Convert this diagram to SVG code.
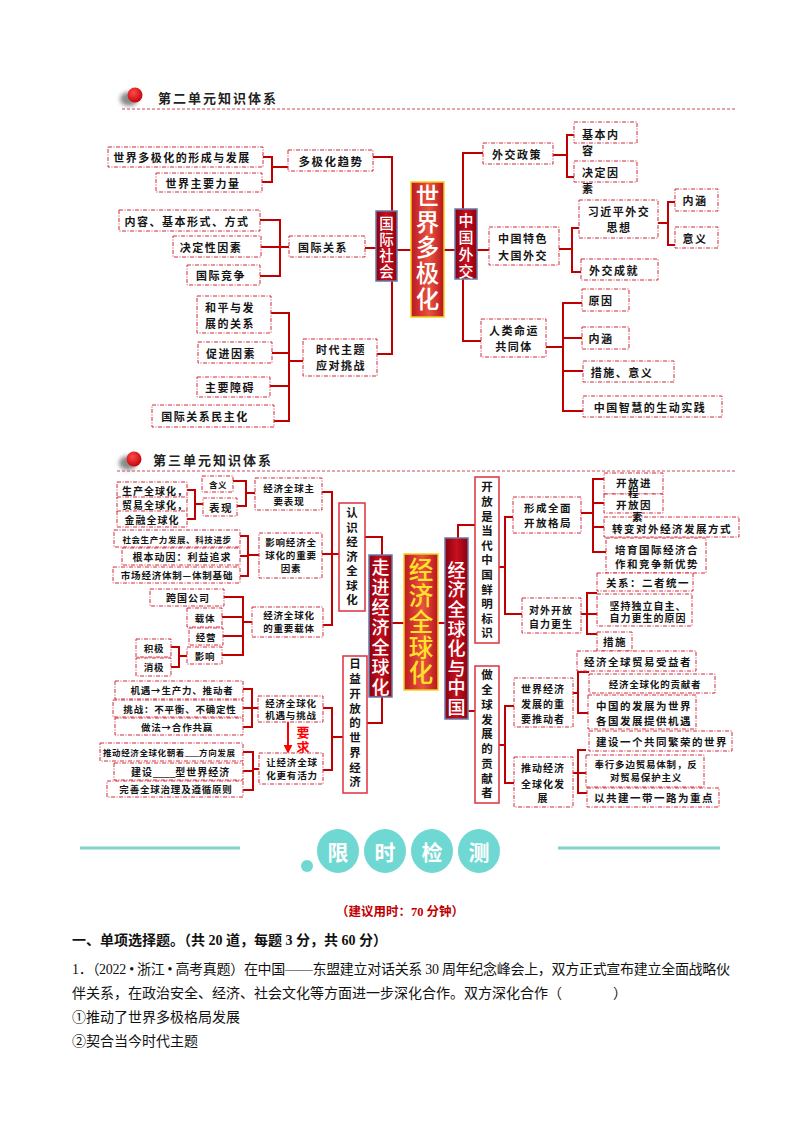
<svg xmlns="http://www.w3.org/2000/svg" width="800" height="1132" viewBox="0 0 800 1132">
<defs>
<style>
.bx{fill:#fff;stroke:#d22b3a;stroke-width:1;stroke-dasharray:4 1.5 1 1.5}
.sb{fill:#fff;stroke:#e0303c;stroke-width:1.5}
.dk{fill:url(#gd);stroke:#6a78a6;stroke-width:1.5}
.ct{fill:url(#gc);stroke:#f2d21a;stroke-width:1.5}
.ln{fill:none;stroke:#c00000;stroke-width:2}
.t{font-family:"Noto Sans CJK SC","Noto Sans CJK JP",sans-serif;font-weight:700;fill:#151515;text-anchor:middle;dominant-baseline:central}
.vt{font-family:"Noto Sans CJK SC","Noto Sans CJK JP",sans-serif;font-weight:700;fill:#151515;text-anchor:middle;writing-mode:vertical-rl}
.s{text-anchor:start}
.a{font-size:11px;letter-spacing:1.5px}
.p12{font-size:10.5px;letter-spacing:1.5px}
.p11{font-size:10px;letter-spacing:1px}
.p10{font-size:9.5px;letter-spacing:0.8px}
.p9{font-size:8.5px;letter-spacing:0.6px}
.v{font-size:11.5px}
.w{fill:#fff;font-weight:500}
.g{fill:#ffe12a;font-weight:500}
.hd{font-family:"Noto Sans CJK SC",sans-serif;font-weight:700;font-size:13px;letter-spacing:2px;fill:#222;dominant-baseline:central}
.hl{stroke:#c94a5a;stroke-width:1;stroke-dasharray:3 2}
.body{font-family:"Liberation Serif","Noto Sans CJK SC",serif;font-size:14px;fill:#111}
.tl{fill:#6fd8d2}
.tt{font-family:"Noto Sans CJK SC",sans-serif;font-weight:700;font-size:21px;fill:#fff;text-anchor:middle;dominant-baseline:central}
</style>
<linearGradient id="gd" x1="0" x2="1" y1="0" y2="0"><stop offset="0" stop-color="#8a0010"/><stop offset="0.5" stop-color="#c8101e"/><stop offset="1" stop-color="#8e0012"/></linearGradient>
<linearGradient id="gc" x1="0" x2="1" y1="0" y2="0"><stop offset="0" stop-color="#bd1822"/><stop offset="0.55" stop-color="#e8543f"/><stop offset="1" stop-color="#b81420"/></linearGradient>
<radialGradient id="rb" cx="0.4" cy="0.35" r="0.7"><stop offset="0" stop-color="#ff4a4a"/><stop offset="1" stop-color="#c00008"/></radialGradient>
<filter id="bl" x="-1" y="-1" width="3" height="3"><feGaussianBlur stdDeviation="2.2"/></filter>
<marker id="ah" viewBox="0 0 10 10" refX="8" refY="5" markerWidth="4.5" markerHeight="4.5" orient="auto"><path d="M0,0 L10,5 L0,10 z" fill="#ff0000"/></marker>
</defs>
<rect width="800" height="1132" fill="#fff"/>

<!-- headers -->
<g id="header2">
<ellipse cx="129" cy="99" rx="9" ry="7" fill="#8a8a8a" filter="url(#bl)"/>
<circle cx="135" cy="95" r="7.5" fill="url(#rb)"/>
<text class="hd" x="158" y="97">第二单元知识体系</text>
<line class="hl" x1="122" y1="109" x2="735" y2="109"/>
</g>
<g id="header3">
<ellipse cx="128" cy="463" rx="9" ry="7" fill="#8a8a8a" filter="url(#bl)"/>
<circle cx="134" cy="459" r="7.5" fill="url(#rb)"/>
<text class="hd" x="153" y="459">第三单元知识体系</text>
<line class="hl" x1="117" y1="471" x2="735" y2="471"/>
</g>

<!-- connectors -->
<g id="connectors">
<path class="ln" d="M263,157 H272 V182 H262 M272,167 H288"/>
<path class="ln" d="M373,157 H392 V211"/>
<path class="ln" d="M260,220 H280 V276 H260 M261,247 H289 M365,248 H376"/>
<path class="ln" d="M392,281 V354 H377"/>
<path class="ln" d="M271,313 H289 V421 H274 M272,353 H289 M270,386 H289 M289,361 H303"/>
<path class="ln" d="M397,250 H411 M444,250 H455 M477,250 H489"/>
<path class="ln" d="M463,209 V153 H483 M463,279 V341 H481"/>
<path class="ln" d="M553,155 H567 M574,135 H567 V177 H574"/>
<path class="ln" d="M559,249 H572 M579,228 H572 V272 H581"/>
<path class="ln" d="M658,223 H668 M675,202 H668 V245 H675"/>
<path class="ln" d="M546,347 H563 M582,303 H563 V411 H583 M563,338 H582 M563,371 H583"/>

<path class="ln" d="M187,490 H195 V519 H187 M195,504 H203"/>
<path class="ln" d="M233,481 H246 V506 H237 M246,493 H255"/>
<path class="ln" d="M322,492 H332 V625 H323 M322,554 H339"/>
<path class="ln" d="M240,536 H248 V576 H240 M240,556 H248 M248,555 H259"/>
<path class="ln" d="M224,597 H243 V655 H222 M222,617 H243 M223,636 H243 M243,622 H252"/>
<path class="ln" d="M171,647 H179 V667 H171 M179,656 H187"/>
<path class="ln" d="M243,689 H252 V727 H243 M243,708 H252 M252,708 H258"/>
<path class="ln" d="M323,708 H332 V770 H323 M332,737 H343"/>
<path class="ln" d="M243,752 H253 V790 H243 M243,771 H253 M253,769 H259"/>
<path class="ln" d="M365,537 H382 V555 M382,697 V723 H367 M392,623 H404 M438,623 H445"/>
<path class="ln" d="M458,538 V525 H475 M468,711 H475"/>
<path class="ln" d="M499,567 H505 M513,517 H505 V614 H522"/>
<path class="ln" d="M581,513 H593 M604,479 H593 V552 H606 M593,503 H604 M593,527 H604"/>
<path class="ln" d="M581,614 H597 M597,593 H587 V634 H597"/>
<path class="ln" d="M499,745 H505 M514,706 H505 V783 H514"/>
<path class="ln" d="M573,693 H578 M589,672 H578 V713 H588"/>
<path class="ln" d="M573,773 H586 M586,750 H578 V793 H587"/>
<line x1="288" y1="722" x2="288" y2="752" stroke="#ff0000" stroke-width="2" marker-end="url(#ah)"/>
</g>

<!-- map 1 -->
<g id="n-xingcheng"><rect class="bx" x="108" y="147" width="155" height="20"/><text class="t a" x="182" y="157">世界多极化的形成与发展</text></g>
<g id="n-liliang"><rect class="bx" x="156" y="173" width="106" height="19"/><text class="t a" x="203" y="182.5">世界主要力量</text></g>
<g id="n-qushi"><rect class="bx" x="288" y="150" width="85" height="21"/><text class="t" style="font-size:11.5px;letter-spacing:1.5px" x="331" y="160.5">多极化趋势</text></g>
<g id="n-neirong"><rect class="bx" x="119" y="210" width="141" height="21"/><text class="t a" x="187" y="220.5">内容、基本形式、方式</text></g>
<g id="n-jueding"><rect class="bx" x="173" y="236" width="88" height="21"/><text class="t a" x="211" y="246.5">决定性因素</text></g>
<g id="n-jingzheng"><rect class="bx" x="187" y="265" width="73" height="20"/><text class="t a" x="221" y="275">国际竞争</text></g>
<g id="n-guanxi"><rect class="bx" x="289" y="236" width="76" height="21"/><text class="t a" x="323" y="246.5">国际关系</text></g>
<g id="n-heping"><rect class="bx" x="197" y="296" width="74" height="37"/><text class="t a" x="230" y="307">和平与发</text><text class="t a" x="230" y="323">展的关系</text></g>
<g id="n-cujin"><rect class="bx" x="198" y="342" width="74" height="21"/><text class="t a" x="231" y="352.5">促进因素</text></g>
<g id="n-zhangai"><rect class="bx" x="197" y="377" width="73" height="20"/><text class="t a" x="230" y="387">主要障碍</text></g>
<g id="n-minzhu"><rect class="bx" x="152" y="405" width="122" height="22"/><text class="t a" x="205" y="416">国际关系民主化</text></g>
<g id="n-shidai"><rect class="bx" x="303" y="339" width="74" height="37"/><text class="t a" x="341" y="349">时代主题</text><text class="t a" x="341" y="365">应对挑战</text></g>
<g id="n-guoji"><rect class="dk" x="376" y="211" width="21" height="70"/><text class="vt w" style="font-size:14.5px;letter-spacing:1.5px" x="386.5" y="247.8">国际社会</text></g>
<g id="n-duoji"><rect class="ct" x="411" y="182" width="33" height="135"/><text class="vt w" style="font-size:23.5px;letter-spacing:2.25px" x="427.5" y="248.6">世界多极化</text></g>
<g id="n-waijiao"><rect class="dk" x="455" y="209" width="22" height="70"/><text class="vt w" style="font-size:15px;letter-spacing:2px" x="466" y="246.5">中国外交</text></g>
<g id="n-zhengce"><rect class="bx" x="483" y="143" width="70" height="21"/><text class="t a" x="517" y="153.5">外交政策</text></g>
<g id="n-jiben"><rect class="bx" x="574" y="122" width="63" height="21"/><text class="t a s" x="582" y="134">基本内</text><text class="t a s" x="582" y="150">容</text></g>
<g id="n-yinsu"><rect class="bx" x="574" y="161" width="63" height="21"/><text class="t a s" x="582" y="172">决定因</text><text class="t a s" x="582" y="188">素</text></g>
<g id="n-tese"><rect class="bx" x="489" y="227" width="70" height="38"/><text class="t a" x="523" y="238">中国特色</text><text class="t a" x="523" y="255">大国外交</text></g>
<g id="n-sixiang"><rect class="bx" x="579" y="200" width="79" height="38"/><text class="t a" x="619" y="211">习近平外交</text><text class="t a" x="619" y="227">思想</text></g>
<g id="n-chengjiu"><rect class="bx" x="581" y="259" width="77" height="21"/><text class="t a" x="614" y="269.5">外交成就</text></g>
<g id="n-neihan1"><rect class="bx" x="675" y="189" width="43" height="22"/><text class="t a" x="695" y="200">内涵</text></g>
<g id="n-yiyi"><rect class="bx" x="675" y="227" width="43" height="21"/><text class="t a" x="695" y="237.5">意义</text></g>
<g id="n-mingyun"><rect class="bx" x="481" y="319" width="65" height="38"/><text class="t a" x="514" y="330">人类命运</text><text class="t a" x="514" y="346">共同体</text></g>
<g id="n-yuanyin"><rect class="bx" x="582" y="289" width="47" height="22"/><text class="t a" x="601" y="300">原因</text></g>
<g id="n-neihan2"><rect class="bx" x="582" y="327" width="47" height="22"/><text class="t a" x="601" y="338">内涵</text></g>
<g id="n-cuoshi1"><rect class="bx" x="583" y="361" width="91" height="21"/><text class="t a" x="622" y="371.5">措施、意义</text></g>
<g id="n-zhihui"><rect class="bx" x="583" y="396" width="139" height="21"/><text class="t a" x="650" y="406.5">中国智慧的生动实践</text></g>

<!-- map 2 -->
<g id="n-shengchan"><rect class="bx" x="117" y="482" width="70" height="17"/><text class="t p11" x="155" y="490">生产全球化，</text></g>
<g id="n-maoyi"><rect class="bx" x="117" y="497" width="70" height="15"/><text class="t p11" x="155" y="504">贸易全球化，</text></g>
<g id="n-jinrong"><rect class="bx" x="117" y="511" width="70" height="16"/><text class="t p11" x="152" y="519">金融全球化</text></g>
<g id="n-hanyi"><rect class="bx" x="202" y="476" width="31" height="16"/><text class="t p9" x="218" y="484">含义</text></g>
<g id="n-biaoxian"><rect class="bx" x="203" y="498" width="34" height="18"/><text class="t p12" x="221" y="507">表现</text></g>
<g id="n-zhuyao"><rect class="bx" x="255" y="478" width="67" height="32"/><text class="t p10" x="289" y="488">经济全球主</text><text class="t p10" x="289" y="501">要表现</text></g>
<g id="n-shehui"><rect class="bx" x="114" y="530" width="126" height="17"/><text class="t p9" x="177" y="538.5">社会生产力发展、科技进步</text></g>
<g id="n-genben"><rect class="bx" x="122" y="548" width="118" height="17"/><text class="t p11" x="182" y="556.5">根本动因：利益追求</text></g>
<g id="n-shichang"><rect class="bx" x="113" y="567" width="127" height="16"/><text class="t p10" x="177" y="575">市场经济体制—体制基础</text></g>
<g id="n-yingxiang"><rect class="bx" x="259" y="533" width="63" height="45"/><text class="t p10" x="291" y="542">影响经济全</text><text class="t p10" x="291" y="555">球化的重要</text><text class="t p10" x="291" y="568">因素</text></g>
<g id="n-kuaguo"><rect class="bx" x="150" y="589" width="74" height="17"/><text class="t p11" x="188" y="597.5">跨国公司</text></g>
<g id="n-zaiti"><rect class="bx" x="187" y="608" width="35" height="19"/><text class="t p10" x="205" y="617.5">载体</text></g>
<g id="n-jingying"><rect class="bx" x="189" y="628" width="34" height="17"/><text class="t p10" x="206" y="636.5">经营</text></g>
<g id="n-yingxiang2"><rect class="bx" x="187" y="647" width="35" height="17"/><text class="t p10" x="205" y="655.5">影响</text></g>
<g id="n-zhongyao"><rect class="bx" x="252" y="607" width="71" height="30"/><text class="t p10" x="289" y="615">经济全球化</text><text class="t p10" x="289" y="628">的重要载体</text></g>
<g id="n-jiji"><rect class="bx" x="136" y="639" width="35" height="18"/><text class="t p10" x="154" y="648">积极</text></g>
<g id="n-xiaoji"><rect class="bx" x="136" y="658" width="35" height="18"/><text class="t p10" x="154" y="667">消极</text></g>
<g id="n-jiyu"><rect class="bx" x="115" y="681" width="128" height="18"/><text class="t p10" x="182" y="690">机遇→生产力、推动者</text></g>
<g id="n-tiaozhan"><rect class="bx" x="113" y="700" width="130" height="17"/><text class="t p10" x="180" y="708.5">挑战：不平衡、不确定性</text></g>
<g id="n-zuofa"><rect class="bx" x="115" y="718" width="128" height="17"/><text class="t p10" x="177" y="726.5">做法→合作共赢</text></g>
<g id="n-jiyutz"><rect class="bx" x="258" y="696" width="65" height="26"/><text class="t p10" x="291" y="703">经济全球化</text><text class="t p10" x="291" y="715">机遇与挑战</text></g>
<g id="n-yaoqiu"><text class="vt" style="font-size:13px;letter-spacing:2px;fill:#ff0000" x="303" y="740.5">要求</text></g>
<g id="n-huoli"><rect class="bx" x="259" y="753" width="64" height="31"/><text class="t p10" x="292" y="762">让经济全球</text><text class="t p10" x="292" y="775">化更有活力</text></g>
<g id="n-fangxiang"><rect class="bx" x="100" y="743" width="143" height="18"/><text class="t p9 s" x="103" y="752">推动经济全球化朝着<tspan style="font-family:'Liberation Sans',sans-serif;font-weight:400;letter-spacing:0">___</tspan>方向发展</text></g>
<g id="n-jianshe"><rect class="bx" x="114" y="763" width="129" height="17"/><text class="t p11 s" x="131" y="771.5">建设<tspan style="font-family:'Liberation Sans',sans-serif;font-weight:400;letter-spacing:0">____</tspan>型世界经济</text></g>
<g id="n-wanshan"><rect class="bx" x="107" y="781" width="136" height="16"/><text class="t p10" x="176" y="789">完善全球治理及遵循原则</text></g>
<g id="n-renshi"><rect class="sb" x="339" y="503" width="26" height="108"/><text class="vt v" style="letter-spacing:3px" x="352" y="558">认识经济全球化</text></g>
<g id="n-riyi"><rect class="sb" x="343" y="656" width="24" height="137"/><text class="vt v" style="letter-spacing:3.25px" x="355" y="724.6">日益开放的世界经济</text></g>
<g id="n-zoujin"><rect class="dk" x="369" y="555" width="23" height="142"/><text class="vt w" style="font-size:18px;letter-spacing:2px" x="380.5" y="628">走进经济全球化</text></g>
<g id="n-quanqiu"><rect class="ct" x="404" y="554" width="34" height="136"/><text class="vt g" style="font-size:24.5px;letter-spacing:1.25px" x="421" y="622.2">经济全球化</text></g>
<g id="n-zhongguo"><rect class="dk" x="445" y="538" width="23" height="181"/><text class="vt w" style="font-size:18px;letter-spacing:1.6px" x="456.5" y="639.4">经济全球化与中国</text></g>
<g id="n-biaoshi"><rect class="sb" x="475" y="477" width="24" height="166"/><text class="vt v" style="letter-spacing:3.1px" x="487" y="561.5">开放是当代中国鲜明标识</text></g>
<g id="n-gongxian"><rect class="sb" x="475" y="666" width="24" height="137"/><text class="vt v" style="letter-spacing:3.25px" x="487" y="735.6">做全球发展的贡献者</text></g>
<g id="n-geju"><rect class="bx" x="513" y="497" width="68" height="36"/><text class="t p12" x="548" y="507">形成全面</text><text class="t p12" x="548" y="522">开放格局</text></g>
<g id="n-jincheng"><rect class="bx" x="604" y="473" width="59" height="21"/><text class="t p12" x="634" y="482">开放进</text></g>
<g id="n-yinsu2"><rect class="bx" x="604" y="494" width="59" height="19"/><text class="t p12" x="634" y="492.5">程</text><text class="t p12" x="634" y="504">开放因</text></g>
<g id="n-zhuanbian"><rect class="bx" x="604" y="517" width="135" height="20"/><text class="t p12" x="638" y="516">素</text><text class="t p12" x="672" y="528.5">转变对外经济发展方式</text></g>
<g id="n-peiyu"><rect class="bx" x="606" y="538" width="100" height="35"/><text class="t p12" x="657" y="549">培育国际经济合</text><text class="t p12" x="657" y="563">作和竞争新优势</text></g>
<g id="n-tongyi"><rect class="bx" x="597" y="573" width="96" height="18"/><text class="t p12" x="648" y="582">关系：二者统一</text></g>
<g id="n-jianchi"><rect class="bx" x="597" y="594" width="95" height="32"/><text class="t p11" x="648" y="605">坚持独立自主、</text><text class="t p11" x="648" y="617">自力更生的原因</text></g>
<g id="n-cuoshi2"><rect class="bx" x="597" y="632" width="35" height="19"/><text class="t p12" x="615" y="641">措施</text></g>
<g id="n-zili"><rect class="bx" x="522" y="598" width="59" height="35"/><text class="t p11" x="551" y="609">对外开放</text><text class="t p11" x="551" y="623">自力更生</text></g>
<g id="n-tuidongzhe"><rect class="bx" x="514" y="678" width="59" height="49"/><text class="t p11" x="543" y="688">世界经济</text><text class="t p11" x="543" y="703">发展的重</text><text class="t p11" x="543" y="718">要推动者</text></g>
<g id="n-tuidong"><rect class="bx" x="514" y="757" width="59" height="50"/><text class="t p11" x="543" y="767">推动经济</text><text class="t p11" x="543" y="783">全球化发</text><text class="t p11" x="543" y="797">展</text></g>
<g id="n-shouyi"><rect class="bx" x="577" y="651" width="119" height="20"/><text class="t p12" x="638" y="661">经济全球贸易受益者</text></g>
<g id="n-gongxianzhe"><rect class="bx" x="589" y="674" width="126" height="19"/><text class="t p10" x="655" y="683.5">经济全球化的贡献者</text></g>
<g id="n-jiyu2"><rect class="bx" x="588" y="695" width="108" height="34"/><text class="t p12" x="644" y="705">中国的发展为世界</text><text class="t p12" x="644" y="720">各国发展提供机遇</text></g>
<g id="n-fanrong"><rect class="bx" x="589" y="731" width="143" height="20"/><text class="t p12" x="662" y="741">建设一个共同繁荣的世界</text></g>
<g id="n-duobian"><rect class="bx" x="586" y="755" width="118" height="32"/><text class="t p10" x="646" y="764">奉行多边贸易体制，反</text><text class="t p10" x="646" y="777">对贸易保护主义</text></g>
<g id="n-yidai"><rect class="bx" x="587" y="788" width="132" height="19"/><text class="t p12" x="654" y="797.5">以共建一带一路为重点</text></g>

<!-- banner -->
<g id="banner">
<line x1="80" y1="848" x2="240" y2="848" stroke="#86d2ce" stroke-width="3"/>
<line x1="558" y1="848" x2="720" y2="848" stroke="#86d2ce" stroke-width="3"/>
<circle class="tl" cx="307" cy="866" r="6"/>
<ellipse class="tl" cx="338" cy="851" rx="21" ry="22"/>
<ellipse class="tl" cx="385" cy="851" rx="21" ry="22"/>
<ellipse class="tl" cx="432" cy="851" rx="21" ry="22"/>
<ellipse class="tl" cx="479" cy="851" rx="21" ry="22"/>
<text class="tt" x="338" y="851">限</text>
<text class="tt" x="385" y="851">时</text>
<text class="tt" x="432" y="851">检</text>
<text class="tt" x="479" y="851">测</text>
</g>

<!-- question text -->
<g id="question">
<text class="body" x="400" y="916" style="text-anchor:middle;font-weight:700;fill:#c00000;font-size:12.5px">（建议用时：70 分钟）</text>
<text class="body" x="72" y="945" style="font-weight:700">一、单项选择题。（共 20 道，每题 3 分，共 60 分）</text>
<text class="body" x="72" y="974" textLength="658" lengthAdjust="spacing">1．（2022 • 浙江 • 高考真题）在中国——东盟建立对话关系 30 周年纪念峰会上，双方正式宣布建立全面战略伙</text>
<text class="body" x="72" y="998">伴关系，在政治安全、经济、社会文化等方面进一步深化合作。双方深化合作（<tspan x="613">）</tspan></text>
<text class="body" x="72" y="1022">①推动了世界多极格局发展</text>
<text class="body" x="72" y="1046">②契合当今时代主题</text>
</g>
</svg>
